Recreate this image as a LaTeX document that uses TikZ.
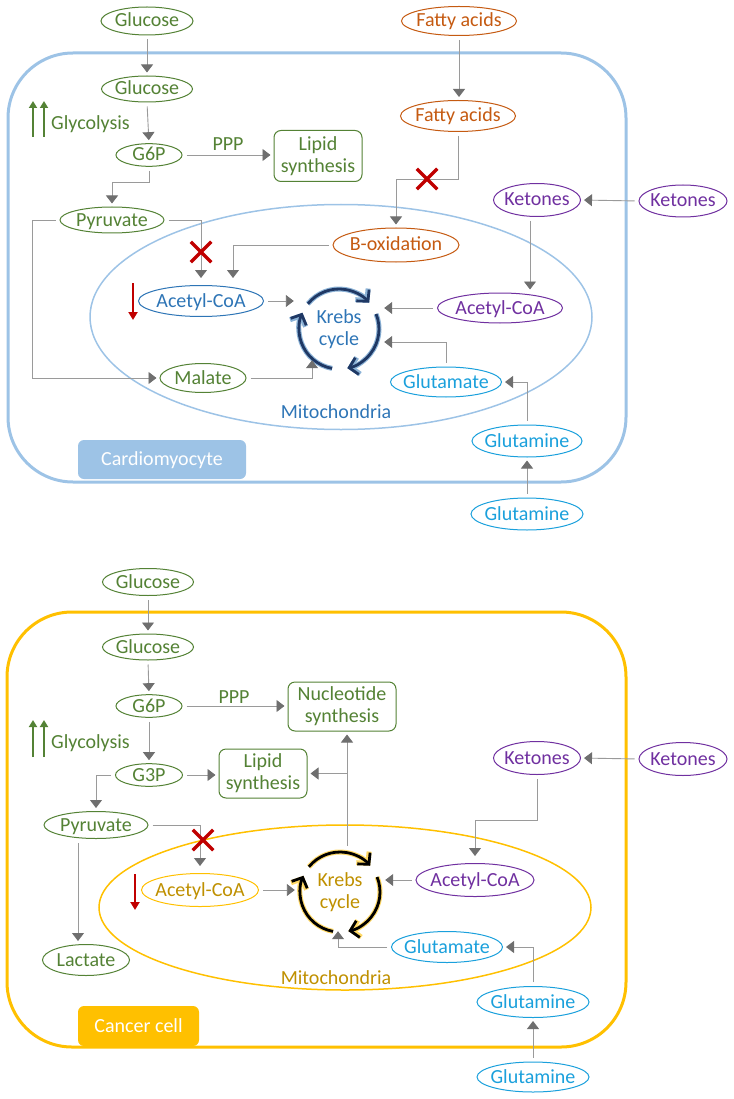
\documentclass[tikz,border=0pt]{standalone}
\usepackage{fontspec}
\setmainfont{Carlito}
\usetikzlibrary{shapes.geometric,shapes.misc,arrows.meta,calc}
\definecolor{cgreen}{HTML}{548235}
\definecolor{corange}{HTML}{C55A11}
\definecolor{cpurple}{HTML}{7030A0}
\definecolor{ccyan}{HTML}{1AA0DC}
\definecolor{cblue}{HTML}{2E75B6}
\definecolor{cnavy}{HTML}{1F3864}
\definecolor{cellblue}{HTML}{9DC3E6}
\definecolor{cgold}{HTML}{FFC000}
\definecolor{cdgold}{HTML}{BF9000}
\definecolor{cglow}{HTML}{FFD966}
\definecolor{cred}{HTML}{C00000}
\definecolor{aline}{HTML}{9A9A9A}
\definecolor{ahead}{HTML}{6F6F6F}
\newcommand\krebsarcs[3]{%
  \begin{scope}[shift={(#1)}, x=1pt, y=1pt]
    \foreach \a/\b in {141/41, 22/-78, -100/-204} {
      \draw[#2, line width=5pt, -{Straight Barb[length=8pt,width=17pt]}] (\a:40) arc[start angle=\a, end angle=\b, radius=40];
      \draw[#3, line width=2.8pt, -{Straight Barb[length=8pt,width=17pt]}] (\a:40) arc[start angle=\a, end angle=\b, radius=40];
    }
  \end{scope}}
\begin{document}
\begin{tikzpicture}[x=1pt,y=-1pt,
  font=\fontsize{20}{22}\selectfont,
  zt/.style={execute at begin node={\hbox to 0pt\bgroup\hss}, execute at end node={\hss\egroup}},
  sz/.style 2 args={minimum width=#1pt, minimum height=#2pt},
  ell/.style={ellipse, draw=#1, text=#1, fill=white, line width=1pt, inner sep=0pt, text height=14pt, text depth=2pt, zt},
  sbox/.style={draw=cgreen, text=cgreen, fill=white, rounded corners=7pt, line width=1pt, align=center, inner sep=0pt},
  arr/.style={draw=aline, line width=0.9pt, -{Triangle[length=8pt,width=12pt,color=ahead]}, shorten >=3pt, shorten <=4pt},
  lbl/.style={inner sep=0pt, text=#1, text height=14pt, text depth=2pt},
  redx/.style={cross out, draw=cred, line width=3.5pt, minimum size=17pt, inner sep=0pt},
  redarr/.style={draw=cred, line width=2.8pt, -{Triangle[length=8pt,width=9pt]}},
  greenarr/.style={draw=cgreen, line width=2.5pt, -{Triangle[length=7pt,width=8pt]}},
  cellbox/.style={draw=#1, line width=3pt, rounded corners=65pt, inner sep=0pt},
  mito/.style={ellipse, draw=#1, line width=1.5pt, inner sep=0pt},
  tag/.style={fill=#1, text=white, rounded corners=6pt, inner sep=0pt, text height=14pt, text depth=2pt},
  kreb/.style={circle, minimum size=84pt, inner sep=0pt, align=center, text=#1},
]
\useasboundingbox (0,0) rectangle (733,1099);

% ================= TOP: Cardiomyocyte =================
\node[cellbox=cellblue, sz={618}{429}] (cell1) at (317,267.5) {};
\node[mito=cellblue, sz={502}{225}] (mito1) at (341,317) {};
\node[lbl=cblue] (mitol1) at (336,412) {Mitochondria};
\node[tag=cellblue, sz={168}{39}] (tag1) at (162,459.5) {Cardiomyocyte};

\node[ell=cgreen, sz={92}{28}] (glc1o) at (147,21) {Glucose};
\node[ell=cgreen, sz={91}{26}] (glc1) at (147,89) {Glucose};
\node[ell=cgreen, sz={66}{22}] (g6p1) at (149,155) {G6P};
\node[sbox, sz={88}{51}] (lip1) at (318,156) {Lipid\\synthesis};
\node[ell=cgreen, sz={104}{26}] (pyr1) at (112,220) {Pyruvate};
\node[ell=cgreen, sz={86}{29}] (mal1) at (203,378) {Malate};
\node[ell=cblue, sz={125}{31}] (acoa1) at (201,301) {Acetyl-CoA};
\node[ell=corange, sz={126}{34}] (box1) at (396,245) {B-oxidation};
\node[ell=corange, sz={115}{29}] (fa1o) at (459,21) {Fatty acids};
\node[ell=corange, sz={115}{31}] (fa1) at (458,116) {Fatty acids};
\node[ell=cpurple, sz={87}{33}] (ket1) at (537,200) {Ketones};
\node[ell=cpurple, sz={88}{32}] (ket1o) at (683,201) {Ketones};
\node[ell=cpurple, sz={125}{30}] (acoa2) at (500,308) {Acetyl-CoA};
\node[ell=ccyan, sz={111}{30}] (glu1) at (446,382) {Glutamate};
\node[ell=ccyan, sz={110}{32}] (gln1) at (527,441) {Glutamine};
\node[ell=ccyan, sz={112}{32}] (gln1o) at (527,514) {Glutamine};
\node[kreb=cblue] (kreb1) at (339,329) {Krebs\\cycle};
\krebsarcs{kreb1.center}{cblue!55}{cnavy}

\node[lbl=cgreen] (glyl1) at (90.5,124) {Glycolysis};
\node[lbl=cgreen] (ppp1) at (228,145) {PPP};
\coordinate (ga1s) at (33,137); \coordinate (ga1e) at (33,101);
\coordinate (gb1s) at (44,137); \coordinate (gb1e) at (44,101);
\draw[greenarr] (ga1s) -- (ga1e);
\draw[greenarr] (gb1s) -- (gb1e);

\draw[arr] (glc1o.south) -- (glc1.north);
\draw[arr] (glc1.south) -- (g6p1.north);
\draw[arr] (g6p1.east) -- (g6p1.east -| lip1.west);
\draw[arr] (g6p1.south) -- ++(0,16) -| (pyr1.north);
\draw[arr, shorten >=7pt] (pyr1.east) -| (acoa1.north);
\draw[arr, shorten >=3pt] (pyr1.west) -- ++(-27,0) |- (mal1.west);
\draw[arr, shorten >=7pt] (box1.west) -| ([xshift=32pt]acoa1.north);
\draw[arr] (acoa1.east) -- (acoa1.east -| kreb1.west);
\draw[arr] (mal1.east) -| ([xshift=-27pt,yshift=14pt]kreb1.south);
\draw[arr] (fa1o.south) -- (fa1o.south |- fa1.north);
\draw[arr] (fa1.south) -- ++(0,47) -| (box1.north);
\draw[arr] (ket1o.west) -- (ket1.east);
\draw[arr] ([xshift=-7pt]ket1.south) -- ([xshift=-7pt]ket1.south |- acoa2.north);
\draw[arr] (acoa2.west) -- (acoa2.west -| kreb1.east);
\draw[arr] (glu1.north) |- ([yshift=-13pt]kreb1.east);
\draw[arr] (gln1.north) |- (glu1.east);
\draw[arr] (gln1o.north) -- (gln1.south);

\node[redx] (x1) at (201,252) {};
\node[redx] (x2) at (427,179) {};
\coordinate (ra1s) at (133,283); \coordinate (ra1e) at (133,320);
\draw[redarr] (ra1s) -- (ra1e);

% ================= BOTTOM: Cancer cell =================
\node[cellbox=cgold, sz={619}{435}] (cell2) at (316.5,829.5) {};
\node[mito=cgold, sz={492}{165}] (mito2) at (345,907.5) {};
\node[lbl=cdgold] (mitol2) at (336,978) {Mitochondria};
\node[tag=cgold, sz={121}{40}] (tag2) at (138.5,1026) {Cancer cell};

\node[ell=cgreen, sz={91}{27}] (glc2o) at (148,582) {Glucose};
\node[ell=cgreen, sz={91}{26}] (glc2) at (148,647) {Glucose};
\node[ell=cgreen, sz={66}{22}] (g6p2) at (149,706) {G6P};
\node[sbox, sz={108}{49}] (nuc) at (342,706.5) {Nucleotide\\synthesis};
\node[ell=cgreen, sz={67}{22}] (g3p) at (149,775) {G3P};
\node[sbox, sz={88}{49}] (lip2) at (263,773.5) {Lipid\\synthesis};
\node[ell=cgreen, sz={104}{27}] (pyr2) at (96,825) {Pyruvate};
\node[ell=cgreen, sz={87}{31}] (lac) at (86,960) {Lactate};
\node[ell=cgold, text=cdgold, sz={117}{33}] (acoa3) at (200,890) {Acetyl-CoA};
\node[ell=cpurple, sz={87}{33}] (ket2) at (537,758) {Ketones};
\node[ell=cpurple, sz={88}{33}] (ket2o) at (683,759) {Ketones};
\node[ell=cpurple, sz={118}{33}] (acoa4) at (475,880) {Acetyl-CoA};
\node[ell=ccyan, sz={111}{31}] (glu2) at (447,947) {Glutamate};
\node[ell=ccyan, sz={112}{31}] (gln2) at (533,1002) {Glutamine};
\node[ell=ccyan, sz={112}{30}] (gln2o) at (533,1077) {Glutamine};
\node[kreb=cdgold] (kreb2) at (340,892) {Krebs\\cycle};
\krebsarcs{kreb2.center}{cglow}{black}

\node[lbl=cgreen] (glyl2) at (90.5,742) {Glycolysis};
\node[lbl=cgreen] (ppp2) at (234,697) {PPP};
\coordinate (ga2s) at (33,757); \coordinate (ga2e) at (33,720);
\coordinate (gb2s) at (44,757); \coordinate (gb2e) at (44,720);
\draw[greenarr] (ga2s) -- (ga2e);
\draw[greenarr] (gb2s) -- (gb2e);

\draw[arr] (glc2o.south) -- (glc2.north);
\draw[arr] (glc2.south) -- (g6p2.north);
\draw[arr] (g6p2.east) -- (g6p2.east -| nuc.west);
\draw[arr] (g6p2.south) -- (g3p.north);
\draw[arr] (g3p.east) -- (g3p.east -| lip2.west);
\draw[arr] (g3p.west) -| (pyr2.north);
\draw[arr, shorten >=7pt] (pyr2.east) -| (acoa3.north);
\draw[arr] ([xshift=-18pt]pyr2.south) -- ([xshift=-18pt]pyr2.south |- lac.north);
\draw[arr] (acoa3.east) -- (acoa3.east -| kreb2.west);
\coordinate (kt2) at ([xshift=7pt]kreb2.north);
\draw[arr] (kt2) -- (kt2 |- nuc.south);
\draw[arr, shorten <=0pt] (kt2 |- lip2.east) -- (lip2.east);
\draw[arr] (ket2o.west) -- (ket2.east);
\draw[arr, shorten >=7pt] (ket2.south) -- ++(0,45) -| (acoa4.north);
\draw[arr] (acoa4.west) -- (acoa4.west -| kreb2.east);
\draw[arr] (glu2.west) -| ([xshift=-2pt,yshift=6pt]kreb2.south);
\draw[arr] (gln2.north) |- (glu2.east);
\draw[arr] (gln2o.north) -- (gln2.south);

\node[redx] (x3) at (203,840) {};
\coordinate (ra2s) at (135,874); \coordinate (ra2e) at (135,910);
\draw[redarr] (ra2s) -- (ra2e);
\end{tikzpicture}
\end{document}
